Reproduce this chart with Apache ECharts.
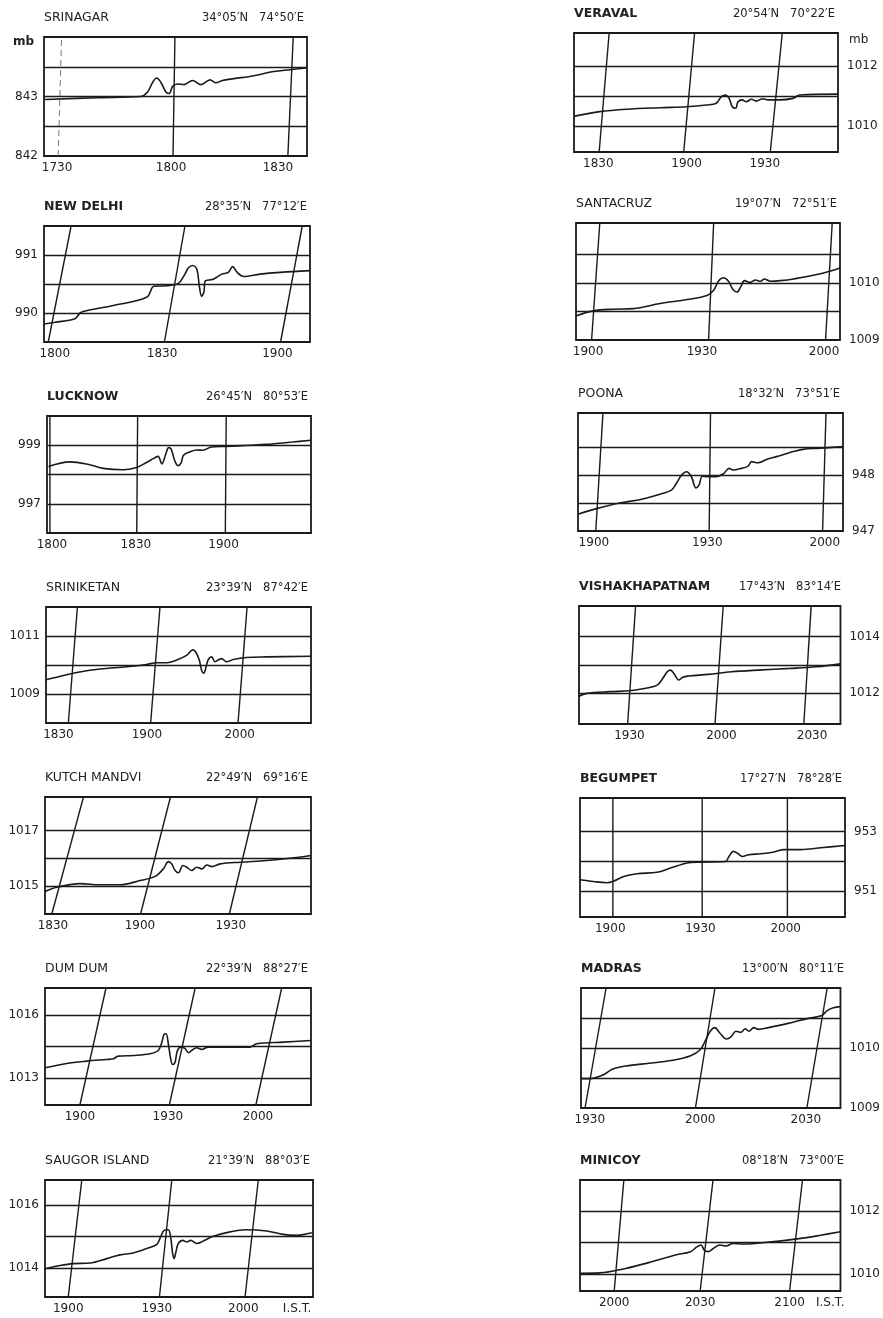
<!DOCTYPE html>
<html><head><meta charset="utf-8">
<script src="https://cdn.jsdelivr.net/npm/echarts@6/dist/echarts.min.js"></script>
<style>html,body{margin:0;padding:0;background:#fff}#c{width:883px;height:1318px}</style>
</head><body><div id="c"></div>
<script>
// ---- DATA: time in minutes after midnight (IST), pressure in mb ----
// SRINAGAR
const srinagarTrace = [[1046.5,842.95],[1060.2,842.98],[1071.6,843.0],[1073.3,843.07],[1074.7,843.24],[1075.7,843.31],[1076.8,843.24],[1078.2,843.07],[1079,843.05],[1079.9,843.17],[1081.2,843.21],[1082.9,843.2],[1085.1,843.27],[1087.3,843.2],[1089.7,843.28],[1091.2,843.23],[1092.9,843.27],[1095.9,843.3],[1101.1,843.35],[1106.3,843.42],[1110.5,843.45],[1114.8,843.48]];
const srinagarLines = [1050,1080,1110];
const srinagarSlants = [0.9,0.5,1.4];
const srinagarTicks = [1049.7,1079.5,1107.4];
const srinagarTickText = ['1730','1800','1830'];
const srinagarLabels = [842,843];
const srinagarGrid = [842.5,843,843.5];
// NEW DELHI
const delhiTrace = [[1078.9,989.81],[1081.7,989.84],[1086.9,989.9],[1088.2,990.0],[1089.9,990.04],[1096.8,990.13],[1105.4,990.27],[1107.3,990.46],[1110.6,990.47],[1113.6,990.51],[1115.3,990.67],[1116.2,990.78],[1117.3,990.82],[1118.4,990.75],[1119,990.47],[1119.6,990.29],[1120.2,990.36],[1120.5,990.55],[1122.6,990.58],[1124.8,990.67],[1126.5,990.7],[1127.6,990.8],[1128.8,990.7],[1130.4,990.63],[1134.7,990.67],[1139.9,990.7],[1147.6,990.73]];
const delhiLines = [1080,1110,1140];
const delhiSlants = [5.9,5.3,5.6];
const delhiTicks = [1081.7,1109.4,1139.2];
const delhiTickText = ['1800','1830','1900'];
const delhiLabels = [990,991];
const delhiGrid = [990,990.5,991];
// LUCKNOW
const lucknowTrace = [[1079.5,998.27],[1086.8,998.43],[1092.5,998.36],[1098.2,998.21],[1105,998.16],[1109.6,998.24],[1113,998.41],[1115.5,998.55],[1117,998.62],[1118.3,998.36],[1119.6,998.69],[1120.6,998.92],[1121.5,998.86],[1122.7,998.47],[1123.8,998.3],[1124.9,998.41],[1125.7,998.66],[1127.8,998.77],[1130.1,998.84],[1132.3,998.83],[1135.2,998.94],[1140.3,998.96],[1148.3,999.0],[1154,999.03],[1163,999.11],[1169.3,999.17]];
const lucknowLines = [1080,1109.7,1140];
const lucknowSlants = [0,0.3,0.3];
const lucknowTicks = [1080.7,1109.4,1139.4];
const lucknowTickText = ['1800','1830','1900'];
const lucknowLabels = [997,999];
const lucknowGrid = [997,998,999];
// SRINIKETAN
const sriniketanTrace = [[1102.4,1009.5],[1105.9,1009.58],[1113,1009.74],[1121.2,1009.86],[1130.6,1009.94],[1137.7,1010.02],[1141.2,1010.08],[1144.8,1010.08],[1148.3,1010.17],[1151.8,1010.33],[1154,1010.52],[1155.1,1010.44],[1156.3,1010.17],[1157.1,1009.83],[1157.9,1009.72],[1158.7,1009.94],[1159.5,1010.19],[1160.7,1010.28],[1161.8,1010.11],[1163,1010.17],[1164.2,1010.22],[1166,1010.11],[1168.3,1010.19],[1173,1010.26],[1180.1,1010.28],[1196,1010.3]];
const sriniketanLines = [1110,1139.1,1170];
const sriniketanSlants = [3.2,3.3,3.2];
const sriniketanTicks = [1106.5,1137.8,1170.6];
const sriniketanTickText = ['1830','1900','2000'];
const sriniketanLabels = [1009,1011];
const sriniketanGrid = [1009,1010,1011];
// KUTCH MANDVI
const kutchTrace = [[1107.7,1014.81],[1111.7,1014.96],[1119.6,1015.09],[1126.3,1015.05],[1133.1,1015.05],[1139.8,1015.2],[1144.9,1015.35],[1147.7,1015.62],[1149.4,1015.88],[1150.5,1015.8],[1151.7,1015.56],[1152.8,1015.48],[1154.3,1015.74],[1155.6,1015.68],[1157.3,1015.56],[1159,1015.68],[1160.7,1015.62],[1162.4,1015.76],[1164.1,1015.7],[1166.9,1015.8],[1173.6,1015.86],[1182.6,1015.92],[1190.5,1016.0],[1197.6,1016.1]];
const kutchLines = [1110,1140,1170];
const kutchSlants = [10.7,10.1,9.5];
const kutchTicks = [1110.4,1139.8,1170.5];
const kutchTickText = ['1830','1900','1930'];
const kutchLabels = [1015,1017];
const kutchGrid = [1015,1016,1017];
// DUM DUM
const dumdumTrace = [[1128.1,1013.48],[1135.5,1013.69],[1142.3,1013.8],[1149.1,1013.88],[1151.4,1013.91],[1153.1,1014.04],[1158.2,1014.07],[1163.9,1014.15],[1166.7,1014.31],[1167.9,1014.68],[1168.7,1015.08],[1169.4,1015.11],[1170.1,1014.68],[1170.9,1013.96],[1171.6,1013.64],[1172.4,1013.72],[1173.2,1014.28],[1174.4,1014.47],[1175.8,1014.41],[1177,1014.2],[1178.1,1014.31],[1179.8,1014.44],[1181.5,1014.36],[1183.8,1014.47],[1192.3,1014.47],[1198,1014.47],[1200.3,1014.63],[1209.4,1014.71],[1218.8,1014.79]];
const dumdumLines = [1140,1170.5,1200];
const dumdumSlants = [8.9,8.8,8.8];
const dumdumTicks = [1140,1170,1200.7];
const dumdumTickText = ['1900','1930','2000'];
const dumdumLabels = [1013,1016];
const dumdumGrid = [1013,1014.5,1016];
// SAUGOR ISLAND
const saugorTrace = [[1132.1,1013.98],[1137.2,1014.08],[1141.7,1014.14],[1147.4,1014.16],[1153.1,1014.3],[1157.6,1014.42],[1162.1,1014.48],[1166.7,1014.62],[1170.1,1014.75],[1171.4,1014.99],[1172.6,1015.2],[1174,1015.22],[1174.8,1014.99],[1175.5,1014.46],[1176,1014.3],[1176.6,1014.51],[1177.4,1014.78],[1178.9,1014.88],[1180.3,1014.83],[1181.6,1014.88],[1183.7,1014.78],[1185.9,1014.86],[1189.3,1015.01],[1195,1015.15],[1200.1,1015.22],[1207.5,1015.18],[1213.1,1015.07],[1217.7,1015.04],[1222.8,1015.12]];
const saugorLines = [1140,1171,1200.1];
const saugorSlants = [4.6,4.2,4.5];
const saugorTicks = [1140,1170.1,1199.5,1217.8];
const saugorTickText = ['1900','1930','2000','I.S.T.'];
const saugorLabels = [1014,1016];
const saugorGrid = [1014,1015,1016];
// VERAVAL
const veravalTrace = [[1101.5,1010.33],[1110.2,1010.48],[1119.6,1010.56],[1131.2,1010.61],[1140.6,1010.64],[1147.6,1010.7],[1151,1010.76],[1152.8,1010.98],[1154.2,1011.03],[1155.5,1010.92],[1156.6,1010.64],[1157.8,1010.59],[1158.6,1010.81],[1160.1,1010.87],[1161.5,1010.81],[1163.3,1010.89],[1165,1010.83],[1167.3,1010.91],[1169.1,1010.87],[1173.2,1010.87],[1177.8,1010.92],[1180.2,1011.03],[1193.6,1011.06]];
const veravalLines = [1110,1139.6,1169.9];
const veravalSlants = [3.5,3.8,4.2];
const veravalTicks = [1109.7,1140.6,1168];
const veravalTickText = ['1830','1900','1930'];
const veravalLabels = [1010,1012];
const veravalGrid = [1010,1011,1012];
// SANTACRUZ
const santacruzTrace = [[1136,1009.42],[1140.4,1009.51],[1145.6,1009.54],[1150.7,1009.55],[1157.6,1009.64],[1164.5,1009.71],[1169.6,1009.78],[1171.3,1009.87],[1172.5,1010.03],[1173.8,1010.09],[1175.1,1010.03],[1176.2,1009.89],[1177.3,1009.84],[1178.3,1009.94],[1179.2,1010.04],[1180.7,1010.01],[1182,1010.05],[1183.3,1010.03],[1184.3,1010.07],[1185.8,1010.03],[1188.4,1010.04],[1191.8,1010.07],[1198.7,1010.16],[1203.7,1010.26]];
const santacruzLines = [1140,1170,1200];
const santacruzSlants = [2.1,1.3,1.7];
const santacruzTicks = [1139.1,1168.3,1199.6];
const santacruzTickText = ['1900','1930','2000'];
const santacruzLabels = [1009,1010];
const santacruzGrid = [1009.5,1010,1010.5];
// POONA
const poonaTrace = [[1135.3,947.3],[1140.2,947.4],[1146.3,947.5],[1151.6,947.56],[1156.1,947.64],[1160,947.73],[1161.3,947.85],[1162.7,948.0],[1164,948.06],[1165.3,947.97],[1166.5,947.77],[1167.3,947.82],[1168.2,947.98],[1169.7,947.97],[1171.7,947.97],[1173.7,948.02],[1175.3,948.12],[1176.3,948.09],[1178.5,948.12],[1180.3,948.16],[1181.2,948.24],[1182.9,948.22],[1185.2,948.28],[1187.8,948.33],[1190.4,948.38],[1192.2,948.42],[1194.8,948.46],[1199.3,948.48],[1205.4,948.51]];
const poonaLines = [1140,1170,1200];
const poonaSlants = [1.9,0.35,0.9];
const poonaTicks = [1139.5,1169.5,1200.6];
const poonaTickText = ['1900','1930','2000'];
const poonaLabels = [947,948];
const poonaGrid = [947.5,948,948.5];
// VISHAKHAPATNAM
const vizagTrace = [[1153.4,1011.9],[1156,1012.0],[1163.8,1012.06],[1170.6,1012.09],[1176.2,1012.18],[1180.1,1012.29],[1182,1012.53],[1183.5,1012.76],[1184.6,1012.82],[1186.1,1012.65],[1187.4,1012.47],[1188.8,1012.57],[1190.8,1012.61],[1197.5,1012.67],[1205.4,1012.76],[1214.3,1012.82],[1225.6,1012.88],[1234.5,1012.94],[1242.6,1013.04]];
const vizagLines = [1170,1199.8,1230.1];
const vizagSlants = [2.7,2.8,2.5];
const vizagTicks = [1170.6,1202,1232.9];
const vizagTickText = ['1930','2000','2030'];
const vizagLabels = [1012,1014];
const vizagGrid = [1012,1013,1014];
// BEGUMPET
const begumpetTrace = [[1128.7,951.38],[1133.3,951.32],[1137.9,951.28],[1140.2,951.33],[1143.7,951.49],[1148.3,951.58],[1155.2,951.63],[1159.8,951.77],[1165.5,951.94],[1170.1,951.97],[1178.7,951.99],[1179.9,952.16],[1181.4,952.33],[1182.8,952.27],[1184.5,952.16],[1186.8,952.22],[1190.8,952.25],[1195.4,952.31],[1198.8,952.39],[1204.6,952.39],[1211.5,952.45],[1219.8,952.53]];
const begumpetLines = [1140,1170.7,1200];
const begumpetSlants = [0,0,0];
const begumpetTicks = [1139.1,1170.1,1199.4];
const begumpetTickText = ['1900','1930','2000'];
const begumpetLabels = [951,953];
const begumpetGrid = [951,952,953];
// MADRAS
const madrasTrace = [[1168.9,1009.49],[1171.3,1009.49],[1174.8,1009.55],[1177.5,1009.65],[1181,1009.7],[1188,1009.75],[1194.2,1009.8],[1198.6,1009.87],[1201.2,1009.97],[1202.5,1010.11],[1203.9,1010.28],[1205.2,1010.34],[1206.5,1010.25],[1208.3,1010.15],[1209.6,1010.19],[1210.9,1010.28],[1212.2,1010.26],[1213.4,1010.32],[1214.4,1010.28],[1215.7,1010.34],[1217,1010.31],[1219.7,1010.34],[1225,1010.41],[1230.2,1010.49],[1234.2,1010.54],[1235.5,1010.62],[1237.3,1010.67],[1239.2,1010.69]];
const madrasLines = [1170,1199.9,1230.1];
const madrasSlants = [5.7,5.3,5.5];
const madrasTicks = [1171.3,1201.2,1229.8];
const madrasTickText = ['1930','2000','2030'];
const madrasLabels = [1009,1010];
const madrasGrid = [1009.5,1010,1010.5];
// MINICOY
const minicoyTrace = [[1188.3,1010.03],[1195,1010.04],[1203.9,1010.18],[1212.8,1010.39],[1220.6,1010.6],[1226.1,1010.71],[1228.3,1010.86],[1229.7,1010.92],[1230.8,1010.76],[1232.2,1010.71],[1233.9,1010.81],[1236.1,1010.92],[1238.3,1010.89],[1240.6,1010.97],[1243.9,1010.95],[1250.6,1010.99],[1257.2,1011.05],[1263.9,1011.13],[1270.6,1011.23],[1277.4,1011.34]];
const minicoyLines = [1200,1229.4,1260];
const minicoySlants = [3.3,4.4,4.4];
const minicoyTicks = [1200,1229.4,1260,1273.9];
const minicoyTickText = ['2000','2030','2100','I.S.T.'];
const minicoyLabels = [1010,1012];
const minicoyGrid = [1010,1011,1012];

// ---- PANEL SETUP (axis extents + layout) ----
const panels = [
 {name:'SRINAGAR', coord:'34°05′N   74°50′E', trace:srinagarTrace, lines:srinagarLines, slants:srinagarSlants, ticks:srinagarTicks, tickText:srinagarTickText, yLabels:srinagarLabels, yGrid:srinagarGrid, x:[1046.3,1115], y:[842,844], box:[44,37,307,156], side:'left', mb:true, faintFirst:true},
 {name:'NEW DELHI', bold:true, coord:'28°35′N   77°12′E', trace:delhiTrace, lines:delhiLines, slants:delhiSlants, ticks:delhiTicks, tickText:delhiTickText, yLabels:delhiLabels, yGrid:delhiGrid, x:[1078.9,1147.6], y:[989.5,991.5], box:[44,226,310,342], side:'left'},
 {name:'LUCKNOW', bold:true, coord:'26°45′N   80°53′E', trace:lucknowTrace, lines:lucknowLines, slants:lucknowSlants, ticks:lucknowTicks, tickText:lucknowTickText, yLabels:lucknowLabels, yGrid:lucknowGrid, x:[1079,1169.3], y:[996,1000], box:[47,416,311,533], side:'left'},
 {name:'SRINIKETAN', coord:'23°39′N   87°42′E', trace:sriniketanTrace, lines:sriniketanLines, slants:sriniketanSlants, ticks:sriniketanTicks, tickText:sriniketanTickText, yLabels:sriniketanLabels, yGrid:sriniketanGrid, x:[1102.1,1195.8], y:[1008,1012], box:[46,607,311,723], side:'left'},
 {name:'KUTCH MANDVI', coord:'22°49′N   69°16′E', trace:kutchTrace, lines:kutchLines, slants:kutchSlants, ticks:kutchTicks, tickText:kutchTickText, yLabels:kutchLabels, yGrid:kutchGrid, x:[1107.7,1197.6], y:[1014,1018.2], box:[45,797,311,914], side:'left'},
 {name:'DUM DUM', coord:'22°39′N   88°27′E', trace:dumdumTrace, lines:dumdumLines, slants:dumdumSlants, ticks:dumdumTicks, tickText:dumdumTickText, yLabels:dumdumLabels, yGrid:dumdumGrid, x:[1128.1,1218.8], y:[1011.7,1017.3], box:[45,988,311,1105], side:'left'},
 {name:'SAUGOR ISLAND', coord:'21°39′N   88°03′E', trace:saugorTrace, lines:saugorLines, slants:saugorSlants, ticks:saugorTicks, tickText:saugorTickText, yLabels:saugorLabels, yGrid:saugorGrid, x:[1132.1,1223.2], y:[1013.08,1016.8], box:[45,1180,313,1297], side:'left'},
 {name:'VERAVAL', bold:true, coord:'20°54′N   70°22′E', trace:veravalTrace, lines:veravalLines, slants:veravalSlants, ticks:veravalTicks, tickText:veravalTickText, yLabels:veravalLabels, yGrid:veravalGrid, x:[1101.2,1193.6], y:[1009.14,1013.09], box:[574,33,838,152], side:'right', mb:true},
 {name:'SANTACRUZ', coord:'19°07′N   72°51′E', trace:santacruzTrace, lines:santacruzLines, slants:santacruzSlants, ticks:santacruzTicks, tickText:santacruzTickText, yLabels:santacruzLabels, yGrid:santacruzGrid, x:[1136,1203.7], y:[1009.0,1011.05], box:[576,223,840,340], side:'right'},
 {name:'POONA', coord:'18°32′N   73°51′E', trace:poonaTrace, lines:poonaLines, slants:poonaSlants, ticks:poonaTicks, tickText:poonaTickText, yLabels:poonaLabels, yGrid:poonaGrid, x:[1135.3,1205.4], y:[947.0,949.11], box:[578,413,843,531], side:'right'},
 {name:'VISHAKHAPATNAM', bold:true, coord:'17°43′N   83°14′E', trace:vizagTrace, lines:vizagLines, slants:vizagSlants, ticks:vizagTicks, tickText:vizagTickText, yLabels:vizagLabels, yGrid:vizagGrid, x:[1153.4,1242.6], y:[1010.92,1015.08], box:[579,606,844,724], side:'right'},
 {name:'BEGUMPET', bold:true, coord:'17°27′N   78°28′E', trace:begumpetTrace, lines:begumpetLines, slants:begumpetSlants, ticks:begumpetTicks, tickText:begumpetTickText, yLabels:begumpetLabels, yGrid:begumpetGrid, x:[1128.7,1219.8], y:[950.13,954.12], box:[580,798,845,917], side:'right'},
 {name:'MADRAS', bold:true, coord:'13°00′N   80°11′E', trace:madrasTrace, lines:madrasLines, slants:madrasSlants, ticks:madrasTicks, tickText:madrasTickText, yLabels:madrasLabels, yGrid:madrasGrid, x:[1168.9,1239.2], y:[1009,1011], box:[581,988,847,1108], side:'right'},
 {name:'MINICOY', bold:true, coord:'08°18′N   73°00′E', trace:minicoyTrace, lines:minicoyLines, slants:minicoySlants, ticks:minicoyTicks, tickText:minicoyTickText, yLabels:minicoyLabels, yGrid:minicoyGrid, x:[1188.3,1277.4], y:[1009.47,1012.97], box:[580,1180,847,1291], side:'right'}
];

const INK = '#1a1a1a';
const FONT = 'DejaVu Sans';
const W = 883;
const option = {animation:false, backgroundColor:'#ffffff', title:[], grid:[], xAxis:[], yAxis:[], series:[]};

panels.forEach((p, i) => {
  const [l, t, r, b] = p.box;
  option.grid.push({left:l, top:t, width:r-l, height:b-t, show:true, borderColor:INK, borderWidth:1.8, backgroundColor:'transparent'});
  option.xAxis.push({
    type:'value', gridIndex:i, min:p.x[0], max:p.x[1],
    axisLine:{show:false}, axisTick:{show:false}, splitLine:{show:false},
    axisLabel:{
      customValues:p.ticks, margin:6, color:'#222', fontSize:12, fontFamily:FONT,
      formatter:(v) => { let k = -1; p.ticks.forEach((tv, j) => { if (Math.abs(tv - v) < 1e-6) k = j; }); return k >= 0 ? p.tickText[k] : ''; }
    }
  });
  option.yAxis.push({
    type:'value', gridIndex:i, min:p.y[0], max:p.y[1], position:p.side,
    axisLine:{show:false}, axisTick:{show:false}, splitLine:{show:false},
    axisLabel:{customValues:p.yLabels, margin:p.side === 'left' ? 6 : 9, color:'#222', fontSize:12, fontFamily:FONT, formatter:(v) => String(v)}
  });
  option.series.push({
    type:'line', xAxisIndex:i, yAxisIndex:i, data:p.trace, smooth:0.35, symbol:'none', silent:true,
    lineStyle:{color:INK, width:1.6},
    markLine:{silent:true, symbol:'none', label:{show:false}, emphasis:{disabled:true},
      lineStyle:{color:INK, width:1.3, type:'solid'}, data:p.yGrid.map(v => ({yAxis:v}))}
  });
  p.lines.forEach((tv, k) => {
    const faint = p.faintFirst && k === 0;
    option.series.push({
      type:'line', xAxisIndex:i, yAxisIndex:i, symbol:'none', silent:true,
      data:[[tv, p.y[0]], [tv + p.slants[k], p.y[1]]],
      lineStyle:{color:faint ? '#777' : INK, width:faint ? 1 : 1.4, type:faint ? [6, 4] : 'solid'}
    });
  });
  option.title.push({text:p.name, left:l, top:t - 26, padding:0,
    textStyle:{fontSize:12.5, fontWeight:p.bold ? 'bold' : 'normal', color:'#222', fontFamily:FONT}});
  option.title.push({text:p.coord, right:W - r + 3, top:t - 25, padding:0,
    textStyle:{fontSize:11.5, fontWeight:'normal', color:'#222', fontFamily:FONT}});
  if (p.mb) {
    if (p.side === 'left') option.title.push({text:'mb', left:l - 31, top:t - 1, padding:0, textStyle:{fontSize:12, fontWeight:'bold', color:'#222', fontFamily:FONT}});
    else option.title.push({text:'mb', left:r + 11, top:t + 1, padding:0, textStyle:{fontSize:12, fontWeight:'normal', color:'#222', fontFamily:FONT}});
  }
});

const chart = echarts.init(document.getElementById('c'), null, {renderer:'canvas'});
chart.setOption(option);
</script></body></html>
